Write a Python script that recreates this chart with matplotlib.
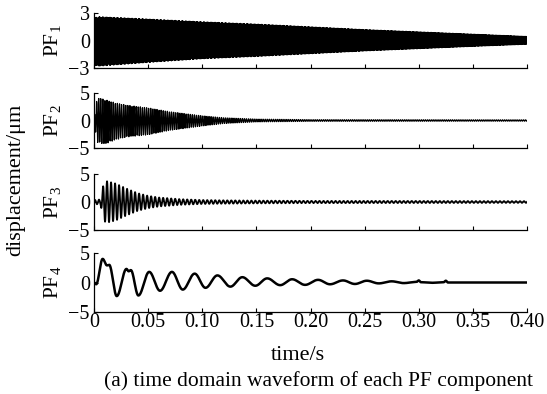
import numpy as np
import matplotlib
matplotlib.use("Agg")
import matplotlib.pyplot as plt

plt.rcParams['font.family'] = ['Liberation Serif', 'DejaVu Serif']
plt.rcParams['mathtext.fontset'] = 'custom'
plt.rcParams['mathtext.rm'] = 'Liberation Serif'
plt.rcParams['mathtext.it'] = 'Liberation Serif:italic'

# time axis
x_ticks = [0, 0.05, 0.10, 0.15, 0.20, 0.25, 0.30, 0.35, 0.40]
x_tick_labels = ['0', '0.05', '0.10', '0.15', '0.20', '0.25', '0.30', '0.35', '0.40']

# PF1: envelope (upper / lower), carrier frequency in Hz
pf1_t = [0, 0.005, 0.05, 0.10, 0.15, 0.20, 0.25, 0.30, 0.35, 0.40]
pf1_up = [2.5, 2.6, 2.35, 2.05, 1.8, 1.5, 1.2, 0.95, 0.7, 0.45]
pf1_lo = [-2.7, -2.8, -2.4, -2.0, -1.75, -1.45, -1.15, -0.9, -0.65, -0.42]
pf1_freq = 1030

# PF2
pf2_t = [0, 0.003, 0.01, 0.02, 0.03, 0.05, 0.07, 0.10, 0.12, 0.15, 0.20, 0.40]
pf2_up = [0.5, 4.2, 3.8, 3.2, 2.8, 2.3, 1.6, 0.85, 0.5, 0.25, 0.15, 0.12]
pf2_lo = [-0.5, -4.0, -4.3, -3.5, -3.0, -2.6, -1.8, -1.0, -0.55, -0.25, -0.15, -0.12]
pf2_freq = 520

# PF3
pf3_t = [0, 0.006, 0.009, 0.012, 0.02, 0.03, 0.04, 0.05, 0.06, 0.08, 0.10, 0.12, 0.15, 0.20, 0.30, 0.40]
pf3_amp = [0.35, 0.45, 3.4, 3.7, 3.3, 2.4, 1.6, 1.1, 0.8, 0.5, 0.35, 0.3, 0.25, 0.2, 0.18, 0.15]
pf3_freq = 270

# PF4: successive extremes (time, value)
pf4_t = [0, 0.002, 0.008, 0.012, 0.014, 0.021, 0.030, 0.032, 0.034, 0.041, 0.051, 0.061, 0.072,
         0.082, 0.093, 0.103, 0.114, 0.126, 0.137, 0.149, 0.160, 0.172, 0.183, 0.195, 0.207,
         0.218, 0.230, 0.241, 0.252, 0.263, 0.275, 0.286, 0.298, 0.300, 0.302, 0.312, 0.323,
         0.325, 0.327, 0.340, 0.360, 0.380, 0.400]
pf4_v = [0.0, -0.3, 4.0, 2.9, 3.0, -2.3, 2.3, 1.9, 2.1, -2.2, 1.8, -1.4, 1.8,
         -1.2, 1.5, -0.9, 1.2, -0.7, 0.9, -0.55, 0.7, -0.45, 0.55, -0.4, 0.45,
         -0.3, 0.35, -0.25, 0.3, -0.15, 0.2, -0.1, 0.1, 0.35, 0.05, -0.05, 0.05,
         0.3, 0.0, 0.0, 0.0, 0.0, 0.0]

t_mid = np.arange(0, 0.4 + 1e-9, 1 / 10000)
t_coarse = np.arange(0, 0.4 + 1e-9, 1 / 5000)
t_fine = np.arange(0, 0.4 + 1e-9, 1 / 20000)


def carrier(t, t_knots, up, lo, freq):
    s = np.sin(2 * np.pi * freq * t)
    u = np.interp(t, t_knots, up)
    l = np.interp(t, t_knots, lo)
    return np.where(s >= 0, s * u, -s * l)


def smooth_extremes(t, tk, vk):
    y = np.interp(t, tk, vk)
    for i in range(len(tk) - 1):
        m = (t >= tk[i]) & (t <= tk[i + 1])
        s = (t[m] - tk[i]) / (tk[i + 1] - tk[i])
        y[m] = vk[i] + (vk[i + 1] - vk[i]) * (1 - np.cos(np.pi * s)) / 2
    return y


series = [
    (t_mid, carrier(t_mid, pf1_t, pf1_up, pf1_lo, pf1_freq)),
    (t_coarse, carrier(t_coarse, pf2_t, pf2_up, pf2_lo, pf2_freq)),
    (t_fine, carrier(t_fine, pf3_t, pf3_amp, [-a for a in pf3_amp], pf3_freq)),
    (t_fine, smooth_extremes(t_fine, pf4_t, pf4_v)),
]
limits = [3, 5, 5, 5]
names = ['PF$_1$', 'PF$_2$', 'PF$_3$', 'PF$_4$']
lws = [0.8, 0.9, 1.3, 1.8]

fig = plt.figure(figsize=(5.47, 3.94), dpi=100)
W, H = 547.0, 394.0
left, right = 94, 527
tops = [13, 93, 174, 253]
bottoms = [68, 148, 230, 312]

for i in range(4):
    ax = fig.add_axes([left / W, 1 - bottoms[i] / H, (right - left) / W, (bottoms[i] - tops[i]) / H])
    tt, yy = series[i]
    ax.plot(tt, yy, color='black', lw=lws[i])
    lim = limits[i]
    ax.set_xlim(0, 0.4)
    ax.set_ylim(-lim, lim)
    ax.set_yticks([-lim, 0, lim])
    ax.set_xticks(x_ticks)
    for side in ['top', 'right']:
        ax.spines[side].set_visible(False)
    for side in ['left', 'bottom']:
        ax.spines[side].set_linewidth(0.9)
    ax.tick_params(direction='in', length=3, width=0.8, labelsize=14.5, pad=3)
    if i < 3:
        ax.set_xticklabels([])
    else:
        ax.set_xticklabels(x_tick_labels)
        ax.tick_params(axis='x', pad=1)
    ax.text(-0.095, 0.5, names[i], rotation=90, ha='center', va='center',
            fontsize=15.5, transform=ax.transAxes)

fig.text(16 / W, 1 - 180 / H, 'displacement/μm', rotation=90, ha='center', va='center', fontsize=16)
fig.text(298 / W, 1 - 355 / H, 'time/s', ha='center', va='center', fontsize=16)
fig.text(318 / W, 1 - 381 / H, '(a) time domain waveform of each PF component', ha='center',
         va='center', fontsize=15.5)

fig.savefig('out.png', dpi=100)
